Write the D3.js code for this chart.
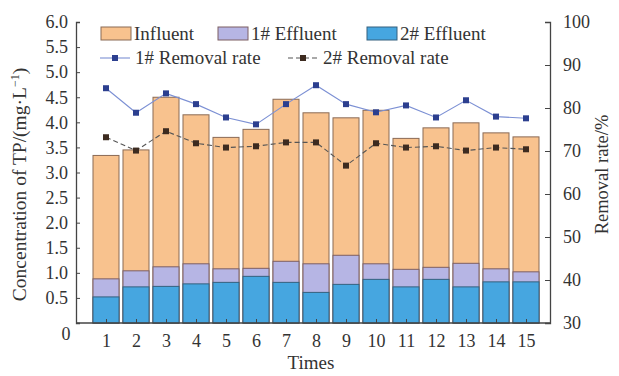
<!DOCTYPE html>
<html>
<head>
<meta charset="utf-8">
<script src="https://cdn.jsdelivr.net/npm/d3@7"></script>
<style>
  html, body { margin: 0; padding: 0; background: #fff; }
  svg text { font-family: "Liberation Serif", "DejaVu Serif", serif; fill: #333; }
</style>
</head>
<body>
<svg id="chart" width="619" height="376"></svg>
<script>
// TP concentration (mg/L) per sampling time
const times = [1, 2, 3, 4, 5, 6, 7, 8, 9, 10, 11, 12, 13, 14, 15];
const influent = [3.34, 3.45, 4.50, 4.15, 3.70, 3.86, 4.46, 4.19, 4.09, 4.24, 3.68, 3.89, 3.99, 3.79, 3.71];
const effluent1 = [0.88, 1.04, 1.12, 1.18, 1.08, 1.09, 1.23, 1.18, 1.35, 1.18, 1.07, 1.11, 1.19, 1.08, 1.02];
const effluent2 = [0.52, 0.72, 0.73, 0.78, 0.81, 0.93, 0.81, 0.61, 0.77, 0.87, 0.72, 0.87, 0.72, 0.82, 0.82];
// Removal rates (%)
const removal1 = [84.6, 78.9, 83.4, 80.9, 77.8, 76.2, 80.9, 85.3, 80.9, 79.0, 80.6, 77.8, 81.8, 78.0, 77.6];
const removal2 = [73.2, 70.1, 74.6, 71.8, 70.8, 71.1, 72.0, 72.0, 66.6, 71.8, 70.8, 71.1, 70.1, 70.8, 70.4];
// Axis ticks
const leftTicks = [0.5, 1.0, 1.5, 2.0, 2.5, 3.0, 3.5, 4.0, 4.5, 5.0, 5.5, 6.0];
const rightTicks = [30, 40, 50, 60, 70, 80, 90, 100];

const svg = d3.select("#chart");
const plotLeft = 76, plotRight = 550, plotTop = 22, plotBottom = 323;

const x = d3.scaleLinear().domain([0, 15.8]).range([plotLeft, plotRight]);
const yL = d3.scaleLinear().domain([0, 6]).range([plotBottom, plotTop]);
const yR = d3.scaleLinear().domain([30, 100]).range([plotBottom, plotTop]);
const barW = 26;

const colors = {
  influent: "#F8C28E", influentStroke: "#8a6a55",
  eff1: "#B6B5E4", eff1Stroke: "#7d5f63",
  eff2: "#46A6E0", eff2Stroke: "#35607e",
  line1: "#7c90d4", mark1: "#2c3f8f",
  line2: "#555", mark2: "#3d2b20"
};

// Overlapping bars: influent behind, 1# effluent, then 2# effluent in front
const barLayers = [
  { data: influent, fill: colors.influent, stroke: colors.influentStroke },
  { data: effluent1, fill: colors.eff1, stroke: colors.eff1Stroke },
  { data: effluent2, fill: colors.eff2, stroke: colors.eff2Stroke }
];
barLayers.forEach(layer => {
  svg.append("g").selectAll("rect")
    .data(times)
    .join("rect")
    .attr("x", (t) => x(t) - barW / 2)
    .attr("width", barW)
    .attr("y", (t, i) => yL(layer.data[i]))
    .attr("height", (t, i) => yL(0) - yL(layer.data[i]))
    .attr("fill", layer.fill)
    .attr("stroke", layer.stroke)
    .attr("stroke-width", 1);
});

// Axes
const axisColor = "#444";
const tickFont = 18;
const gx = svg.append("g").attr("transform", `translate(0,${plotBottom})`)
  .call(d3.axisBottom(x).tickValues(times).tickSize(-4).tickPadding(11).tickFormat(d3.format("d")));
const gl = svg.append("g").attr("transform", `translate(${plotLeft},0)`)
  .call(d3.axisLeft(yL).tickValues(leftTicks).tickSize(-4).tickPadding(8).tickFormat(d3.format(".1f")));
const gr = svg.append("g").attr("transform", `translate(${plotRight},0)`)
  .call(d3.axisRight(yR).tickValues(rightTicks).tickSize(-5).tickPadding(13));
[gx, gl, gr].forEach(g => {
  g.select(".domain").attr("stroke", axisColor).attr("stroke-width", 1.3);
  g.selectAll(".tick line").attr("stroke", axisColor);
  g.selectAll(".tick text").attr("font-size", tickFont).attr("fill", "#333")
    .style("font-family", '"Liberation Serif", serif');
});
gx.select(".domain").attr("d", `M${plotLeft},0H${plotRight}`);
svg.append("text").attr("x", 66).attr("y", 340).attr("text-anchor", "middle")
  .attr("font-size", tickFont).text("0");

// Removal-rate lines
const line = d3.line().x((d, i) => x(times[i])).y(d => yR(d));
svg.append("path").datum(removal1).attr("d", line)
  .attr("fill", "none").attr("stroke", colors.line1).attr("stroke-width", 1.1);
svg.append("path").datum(removal2).attr("d", line)
  .attr("fill", "none").attr("stroke", colors.line2).attr("stroke-width", 1.1)
  .attr("stroke-dasharray", "5,3");
svg.append("g").selectAll("rect").data(removal1).join("rect")
  .attr("x", (d, i) => x(times[i]) - 3).attr("y", d => yR(d) - 3)
  .attr("width", 6).attr("height", 6).attr("fill", colors.mark1);
svg.append("g").selectAll("rect").data(removal2).join("rect")
  .attr("x", (d, i) => x(times[i]) - 3).attr("y", d => yR(d) - 3)
  .attr("width", 6).attr("height", 6).attr("fill", colors.mark2);

// Axis titles
svg.append("text")
  .attr("transform", `translate(26,${(plotTop + plotBottom) / 2 + 12}) rotate(-90)`)
  .attr("text-anchor", "middle").attr("font-size", 19.5)
  .html('Concentration of TP/(mg·L<tspan baseline-shift="super" font-size="12">−1</tspan>)');
svg.append("text")
  .attr("transform", `translate(608,${(plotTop + plotBottom) / 2 + 2}) rotate(-90)`)
  .attr("text-anchor", "middle").attr("font-size", 18.5)
  .text("Removal rate/%");
svg.append("text").attr("x", 311).attr("y", 369).attr("text-anchor", "middle")
  .attr("font-size", 19).text("Times");

// Legend
const legendFont = 19;
const legendBars = [
  { label: "Influent", fill: colors.influent, stroke: colors.influentStroke, x: 101 },
  { label: "1# Effluent", fill: colors.eff1, stroke: colors.eff1Stroke, x: 218 },
  { label: "2# Effluent", fill: colors.eff2, stroke: colors.eff2Stroke, x: 367 }
];
const lg = svg.append("g");
legendBars.forEach(d => {
  lg.append("rect").attr("x", d.x).attr("y", 27).attr("width", 30).attr("height", 13)
    .attr("fill", d.fill).attr("stroke", d.stroke);
  lg.append("text").attr("x", d.x + 33).attr("y", 40).attr("font-size", legendFont).text(d.label);
});
const legendLines = [
  { label: "1# Removal rate", line: colors.line1, mark: colors.mark1, dash: null, x: 100 },
  { label: "2# Removal rate", line: colors.line2, mark: colors.mark2, dash: "5,3", x: 288 }
];
legendLines.forEach(d => {
  lg.append("line").attr("x1", d.x).attr("x2", d.x + 30).attr("y1", 58).attr("y2", 58)
    .attr("stroke", d.line).attr("stroke-width", 1.1).attr("stroke-dasharray", d.dash);
  lg.append("rect").attr("x", d.x + 12).attr("y", 55).attr("width", 6).attr("height", 6)
    .attr("fill", d.mark);
  lg.append("text").attr("x", d.x + 35).attr("y", 64).attr("font-size", legendFont).text(d.label);
});
</script>
</body>
</html>
